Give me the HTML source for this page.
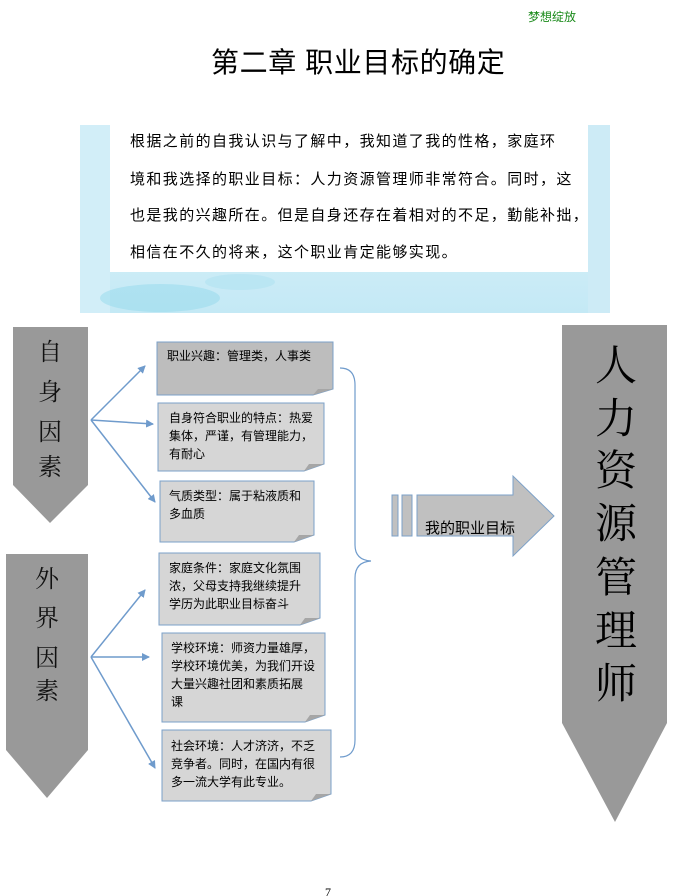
<!DOCTYPE html>
<html><head><meta charset="utf-8"><style>
html,body{margin:0;padding:0;background:#fff;}
svg{display:block;font-family:"Liberation Sans","Noto Sans CJK SC",sans-serif;}
</style></head><body>
<svg width="675" height="896" viewBox="0 0 675 896" xmlns="http://www.w3.org/2000/svg">
<defs>
<marker id="ah" markerWidth="8" markerHeight="8" refX="7" refY="4" orient="auto" markerUnits="userSpaceOnUse"><path d="M0,0 L8,4 L0,8 Z" fill="#6f9bcc"/></marker>
<linearGradient id="bl" x1="0" y1="0" x2="0" y2="1"><stop offset="0" stop-color="#e4f5fb"/><stop offset="1" stop-color="#c4e9f5"/></linearGradient>
</defs>
<text x="528" y="21" font-size="12" fill="#1a8a1a">梦想绽放</text>
<text x="211" y="72" font-size="28" letter-spacing="0.6" fill="#000">第二章 职业目标的确定</text>
<!-- banner -->
<rect x="80" y="125" width="530" height="188" fill="url(#bl)"/>
<rect x="80" y="125" width="30" height="188" fill="#d2eef8"/>
<rect x="588" y="125" width="22" height="188" fill="#cdebf6"/>
<ellipse cx="160" cy="298" rx="60" ry="14" fill="#8ed6ec" opacity="0.45"/>
<ellipse cx="240" cy="282" rx="35" ry="8" fill="#a6def0" opacity="0.4"/>
<rect x="110" y="125" width="478" height="147" fill="#fff"/>
<g font-size="15" fill="#000" letter-spacing="1.4">
<text x="130" y="146">根据之前的自我认识与了解中，我知道了我的性格，家庭环</text>
<text x="130" y="184">境和我选择的职业目标：人力资源管理师非常符合。同时，这</text>
<text x="130" y="220">也是我的兴趣所在。但是自身还存在着相对的不足，勤能补拙，</text>
<text x="130" y="257">相信在不久的将来，这个职业肯定能够实现。</text>
</g>
<!-- left arrows -->
<path d="M13,327 H88 V485 L50,523 L13,485 Z" fill="#999"/>
<g font-size="24" fill="#111" font-family="'Noto Serif CJK SC',serif" text-anchor="middle">
<text x="50" y="360">自</text><text x="50" y="400">身</text><text x="50" y="440">因</text><text x="50" y="475">素</text>
</g>
<path d="M6,554 H88 V750 L47,798 L6,750 Z" fill="#999"/>
<g font-size="24" fill="#111" font-family="'Noto Serif CJK SC',serif" text-anchor="middle">
<text x="47" y="587">外</text><text x="47" y="626">界</text><text x="47" y="666">因</text><text x="47" y="699">素</text>
</g>
<!-- connectors -->
<g stroke="#6f9bcc" stroke-width="1.5" fill="none" marker-end="url(#ah)">
<line x1="91" y1="420" x2="145" y2="366"/>
<line x1="91" y1="420" x2="153" y2="424"/>
<line x1="91" y1="420" x2="155" y2="502"/>
<line x1="91" y1="657" x2="145" y2="590"/>
<line x1="91" y1="657" x2="149" y2="657"/>
<line x1="91" y1="657" x2="155" y2="768"/>
</g>
<!-- boxes -->
<g stroke="#7ba0c8" stroke-width="1">
<path d="M157,342 H333 V389 L313,395 H157 Z" fill="#bdbdbd"/>
<path d="M158,403 H324 V464 L304,471 H158 Z" fill="#d6d6d6"/>
<path d="M160,481 H314 V535 L294,542 H160 Z" fill="#d6d6d6"/>
<path d="M159,553 H320 V618 L300,625 H159 Z" fill="#d6d6d6"/>
<path d="M162,633 H325 V715 L305,722 H162 Z" fill="#d6d6d6"/>
<path d="M162,730 H331 V794 L311,801 H162 Z" fill="#d6d6d6"/>
</g>
<g fill="#a6a6a6">
<path d="M313,395 L333,389 L318,389 Z"/>
<path d="M304,471 L324,464 L309,464 Z"/>
<path d="M294,542 L314,535 L299,535 Z"/>
<path d="M300,625 L320,618 L305,618 Z"/>
<path d="M305,722 L325,715 L310,715 Z"/>
<path d="M311,801 L331,794 L316,794 Z"/>
</g>
<g font-size="12" fill="#000">
<text x="167" y="360">职业兴趣：管理类，人事类</text>
<text x="169" y="422">自身符合职业的特点：热爱</text>
<text x="169" y="440">集体，严谨，有管理能力，</text>
<text x="169" y="458">有耐心</text>
<text x="169" y="500">气质类型：属于粘液质和</text>
<text x="169" y="518">多血质</text>
<text x="169" y="572">家庭条件：家庭文化氛围</text>
<text x="169" y="590">浓，父母支持我继续提升</text>
<text x="169" y="608">学历为此职业目标奋斗</text>
<text x="171" y="652">学校环境：师资力量雄厚，</text>
<text x="171" y="670">学校环境优美，为我们开设</text>
<text x="171" y="688">大量兴趣社团和素质拓展</text>
<text x="171" y="706">课</text>
<text x="171" y="750">社会环境：人才济济，不乏</text>
<text x="171" y="768">竞争者。同时，在国内有很</text>
<text x="171" y="786">多一流大学有此专业。</text>
</g>
<!-- brace -->
<path d="M340,368 Q355,368 355,385 V545 Q355,560 371,561 Q355,562 355,578 V740 Q355,757 340,757" fill="none" stroke="#6f9bcc" stroke-width="1.2"/>
<!-- goal arrow -->
<g stroke="#7ba0c8" stroke-width="1" fill="#c0c0c0">
<rect x="392" y="495" width="6" height="41"/>
<rect x="402" y="495" width="10" height="41"/>
<path d="M417,495 H513 V476 L554,516 L513,556 V536 H417 Z"/>
</g>
<text x="425" y="533" font-size="15" fill="#000">我的职业目标</text>
<!-- right arrow -->
<path d="M562,325 H667 V723 L615,822 L562,723 Z" fill="#999"/>
<g font-size="42" fill="#000" font-family="'Noto Serif CJK SC',serif" text-anchor="middle">
<text x="616" y="380">人</text><text x="616" y="433">力</text><text x="616" y="485">资</text><text x="616" y="538">源</text><text x="616" y="592">管</text><text x="616" y="645">理</text><text x="616" y="698">师</text>
</g>
<text x="325" y="896" font-size="12" fill="#000" font-family="'Liberation Serif',serif">7</text>
</svg>
</body></html>
